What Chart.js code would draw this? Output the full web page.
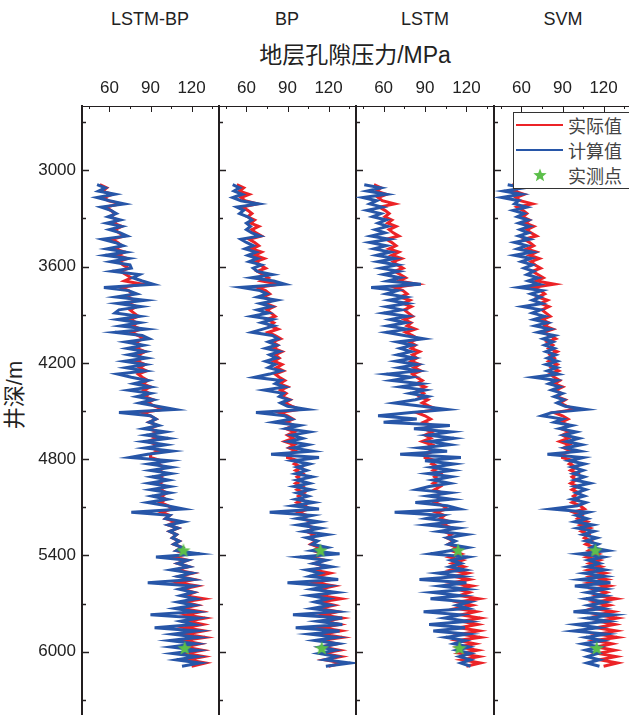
<!DOCTYPE html>
<html><head><meta charset="utf-8">
<script src="https://cdn.jsdelivr.net/npm/chart.js@4/dist/chart.umd.min.js"></script>
<style>
html,body{margin:0;padding:0;width:629px;height:715px;overflow:hidden;background:#fff;font-family:"Liberation Sans","Noto Sans CJK SC",sans-serif;}
.wrap{position:absolute;top:0;height:716px;}
.ptitle{position:absolute;top:8px;font-size:18px;color:#222;text-align:center;width:140px;line-height:22px;}
#xtitle{position:absolute;left:205px;top:40px;width:300px;text-align:center;font-size:23px;color:#222;line-height:30px;}
#ytitle{position:absolute;left:-35px;top:380px;width:100px;text-align:center;font-size:22px;color:#222;line-height:30px;transform:rotate(-90deg);}
#legend{position:absolute;left:513px;top:112px;width:125px;height:75px;border:1px solid #333;background:#fff;z-index:5;}
.lrow{position:absolute;left:0;height:25px;width:125px;}
.lline{position:absolute;left:2px;top:11px;width:47px;height:2px;}
.ltext{position:absolute;left:54px;top:0;font-family:"Noto Sans CJK SC",sans-serif;font-size:18px;line-height:25px;color:#444;}
</style></head>
<body>
<div class="ptitle" style="left:80px">LSTM-BP</div>
<div class="ptitle" style="left:217px">BP</div>
<div class="ptitle" style="left:355px">LSTM</div>
<div class="ptitle" style="left:493px">SVM</div>
<div id="xtitle">地层孔隙压力/MPa</div>
<div id="ytitle">井深/m</div>
<div class="wrap" style="left:0;width:219px"><canvas id="c0" width="219" height="716"></canvas></div>
<div class="wrap" style="left:209px;width:147px"><canvas id="c1" width="147" height="716"></canvas></div>
<div class="wrap" style="left:346px;width:148px"><canvas id="c2" width="148" height="716"></canvas></div>
<div class="wrap" style="left:484px;width:147px"><canvas id="c3" width="147" height="716"></canvas></div>
<div id="legend">
  <div class="lrow" style="top:0"><div class="lline" style="background:#ec2327"></div><div class="ltext">实际值</div></div>
  <div class="lrow" style="top:25px"><div class="lline" style="background:#2756a8"></div><div class="ltext">计算值</div></div>
  <div class="lrow" style="top:50px"><canvas id="lstar" width="16" height="16" style="position:absolute;left:18px;top:4px"></canvas><div class="ltext">实测点</div></div>
</div>
<script>
const panelNames = ['LSTM-BP','BP','LSTM','SVM'];
const depth = [3090,3110,3130,3150,3170,3190,3210,3230,3250,3270,
3290,3310,3330,3350,3370,3390,3410,3430,3450,3470,
3490,3510,3530,3550,3570,3590,3610,3630,3650,3670,
3690,3710,3730,3750,3770,3790,3810,3830,3850,3870,
3890,3910,3930,3950,3970,3990,4010,4030,4050,4070,
4090,4110,4130,4150,4170,4190,4210,4230,4250,4270,
4290,4310,4330,4350,4370,4390,4410,4430,4450,4470,
4490,4510,4530,4550,4570,4590,4610,4630,4650,4670,
4690,4710,4730,4750,4770,4790,4810,4830,4850,4870,
4890,4910,4930,4950,4970,4990,5010,5030,5050,5070,
5090,5110,5130,5150,5170,5190,5210,5230,5250,5270,
5290,5310,5330,5350,5370,5390,5410,5430,5450,5470,
5490,5510,5530,5550,5570,5590,5610,5630,5650,5670,
5690,5710,5730,5750,5770,5790,5810,5830,5850,5870,
5890,5910,5930,5950,5970,5990,6010,6030,6050,6070,
6090];
const actualMPa = [53,58,55,62,56,59,68,57,61,64,
61,66,63,69,64,67,71,62,66,69,
64,71,66,73,67,70,74,68,72,76,
71,84,68,74,77,72,79,74,80,75,
78,81,75,80,77,83,76,81,85,79,
83,80,86,81,84,80,86,82,87,81,
84,88,84,90,85,89,86,92,88,93,
99,84,90,94,89,95,89,95,90,94,
88,95,91,96,90,90,98,95,100,96,
101,97,100,96,101,97,102,98,101,97,
103,106,98,104,101,108,103,110,104,109,
106,111,107,113,109,116,108,117,110,118,
109,121,111,122,110,124,113,122,115,129,
114,124,113,127,116,130,117,128,115,129,
116,130,114,126,115,128,116,129,117,130,
120];
const lstmBpMPa = [51,57,52,64,51,60,71,54,61,65,
59,68,58,69,60,68,73,55,64,70,
58,72,57,74,61,75,76,62,82,77,
84,92,56,74,80,65,86,66,83,67,
64,82,66,82,68,87,64,84,89,72,
85,73,86,74,87,71,86,72,86,66,
76,88,78,90,74,90,80,92,82,95,
108,67,90,94,89,96,85,101,87,103,
85,101,86,106,88,75,104,89,105,90,
105,91,103,89,104,90,104,91,102,88,
102,114,76,104,101,114,103,110,104,109,
106,111,107,113,109,126,94,117,110,118,
105,120,110,121,88,121,111,121,112,123,
110,122,108,123,90,125,112,122,93,124,
106,125,104,123,105,124,106,124,109,126,
113];
const bpMPa = [50,55,51,57,50,56,69,53,58,55,
61,64,60,63,60,64,70,56,60,65,
59,67,61,68,62,71,65,68,79,64,
80,88,56,70,75,68,82,70,78,68,
76,64,79,71,80,72,64,79,83,76,
82,74,84,77,82,74,81,76,85,77,
66,85,81,88,73,87,84,91,85,90,
104,67,88,93,80,99,89,106,93,101,
91,105,94,108,78,113,94,106,97,104,
96,108,97,106,95,107,97,105,96,109,
94,113,77,108,97,113,98,114,102,119,
104,112,108,119,108,128,99,118,109,122,
104,114,106,127,90,120,108,126,106,120,
110,121,108,126,94,130,112,130,96,128,
106,126,110,127,114,125,113,126,117,136,
118];
const lstmMPa = [46,58,48,62,45,55,50,59,48,58,
52,62,56,63,54,61,51,64,50,62,
53,65,55,68,56,70,58,71,60,72,
63,87,51,70,62,76,64,77,62,73,
60,77,65,76,63,77,62,75,89,70,
81,72,80,70,82,69,84,71,85,62,
80,66,87,72,90,79,92,83,68,88,
106,80,56,84,60,108,82,109,92,111,
94,108,86,106,72,116,90,111,95,110,
92,109,96,108,93,84,108,92,109,83,
106,115,68,102,91,111,91,114,100,120,
106,112,107,121,108,94,121,109,116,108,
119,99,116,86,120,101,120,95,116,94,
122,113,121,89,116,104,121,93,119,96,
121,105,119,111,122,113,123,115,123,116,
123];
const svmMPa = [50,62,47,60,46,58,55,64,54,62,
57,65,58,66,59,65,58,66,55,64,
57,68,55,67,60,68,62,69,64,72,
65,73,58,75,67,74,68,75,61,74,
68,77,69,79,70,81,72,84,76,83,
77,84,78,85,79,86,78,86,79,87,
69,86,80,88,82,90,84,91,86,92,
107,82,75,90,84,97,88,100,91,102,
93,104,92,103,79,105,95,106,97,105,
98,106,99,110,99,107,100,106,97,107,
101,82,109,100,108,99,112,101,113,105,
115,107,116,111,123,102,120,109,117,108,
121,106,121,103,125,99,121,108,121,107,
121,109,120,98,127,108,123,100,116,98,
122,107,119,105,117,107,116,108,117,108,
117];
const starDepth = [5368, 5977];
const starMPa = [114, 115];
const xTickVals = [45,60,75,90,105,120,135];
const xLabelVals = [60,90,120];
const yTickVals = [2700,3000,3300,3600,3900,4200,4500,4800,5100,5400,5700,6000,6300];
const yLabelVals = [3000,3600,4200,4800,5400,6000];

const RED = '#ec2327', BLUE = '#2756a8', GREEN = '#5cbf4a', AXIS = '#231f20';
const computed = [lstmBpMPa, bpMPa, lstmMPa, svmMPa];

function drawStar(ctx, cx, cy, R, r){
  ctx.beginPath();
  for(let i=0;i<10;i++){
    const rad = i%2===0 ? R : r;
    const a = -Math.PI/2 + i*Math.PI/5;
    const px = cx + rad*Math.cos(a), py = cy + rad*Math.sin(a);
    if(i===0) ctx.moveTo(px,py); else ctx.lineTo(px,py);
  }
  ctx.closePath(); ctx.fillStyle = GREEN; ctx.fill();
}
const starImg = document.createElement('canvas');
starImg.width = 16; starImg.height = 16;
drawStar(starImg.getContext('2d'), 8, 8.5, 7.5, 3.2);
drawStar(document.getElementById('lstar').getContext('2d'), 8, 8.5, 7, 3);

const inTicks = {
  id: 'inTicks',
  afterDraw(chart){
    const ctx = chart.ctx, a = chart.chartArea;
    const xs = chart.scales.x, ys = chart.scales.y;
    ctx.save();
    ctx.strokeStyle = AXIS;
    ctx.lineWidth = 1;
    xTickVals.forEach(v => {
      const px = Math.round(xs.getPixelForValue(v)) + 0.5;
      const len = xLabelVals.includes(v) ? 6 : 3;
      ctx.beginPath(); ctx.moveTo(px, a.top); ctx.lineTo(px, a.top + len); ctx.stroke();
    });
    ctx.lineWidth = 1.5;
    yTickVals.forEach(v => {
      const py = Math.round(ys.getPixelForValue(v)) + 0.5;
      const len = yLabelVals.includes(v) ? 7 : 4;
      ctx.beginPath(); ctx.moveTo(a.left, py); ctx.lineTo(a.left + len, py); ctx.stroke();
    });
    ctx.restore();
  }
};

function makePanel(i){
  const comp = computed[i];
  const first = i === 0;
  new Chart(document.getElementById('c' + i), {
    type: 'scatter',
    data: {
      datasets: [
        { label: '实测点', data: starDepth.map((d,k)=>({x: starMPa[k], y: d})),
          pointStyle: starImg, pointRadius: 8, showLine: false, order: 0 },
        { label: '计算值', data: depth.map((d,k)=>({x: comp[k], y: d})),
          borderColor: BLUE, backgroundColor: BLUE, borderWidth: 3, pointRadius: 0, showLine: true, tension: 0, order: 1 },
        { label: '实际值', data: depth.map((d,k)=>({x: actualMPa[k], y: d})),
          borderColor: RED, backgroundColor: RED, borderWidth: 3, pointRadius: 0, showLine: true, tension: 0, order: 2 }
      ]
    },
    options: {
      responsive: false, animation: false, devicePixelRatio: 1,
      layout: { padding: 0, autoPadding: false },
      plugins: { legend: { display: false }, tooltip: { enabled: false } },
      scales: {
        x: {
          type: 'linear', position: 'top', min: 40, max: 140,
          afterBuildTicks: s => { s.ticks = xTickVals.map(v => ({ value: v })); },
          afterFit: s => { s.height = 106; s.paddingLeft = 0; s.paddingRight = 0; },
          ticks: { autoSkip: false, maxRotation: 0, padding: 7, color: '#222',
            font: { family: 'Liberation Sans', size: 17 },
            callback: v => xLabelVals.includes(v) ? String(v) : '' },
          grid: { display: true, drawOnChartArea: false, drawTicks: false },
          border: { display: true, color: AXIS, width: 1 }
        },
        y: {
          type: 'linear', position: 'left', reverse: true, min: 2600, max: 6400,
          afterBuildTicks: s => { s.ticks = yTickVals.map(v => ({ value: v })); },
          afterFit: s => { s.width = first ? 82 : 10; s.paddingTop = 0; s.paddingBottom = 0; },
          ticks: { display: first, autoSkip: false, padding: 6, color: '#222',
            font: { family: 'Liberation Sans', size: 17 },
            callback: v => yLabelVals.includes(v) ? String(v) : '' },
          grid: { display: true, drawOnChartArea: false, drawTicks: false },
          border: { display: true, color: AXIS, width: 2 }
        }
      }
    },
    plugins: [inTicks]
  });
}
for (let i = 0; i < 4; i++) makePanel(i);
</script>
</body></html>
